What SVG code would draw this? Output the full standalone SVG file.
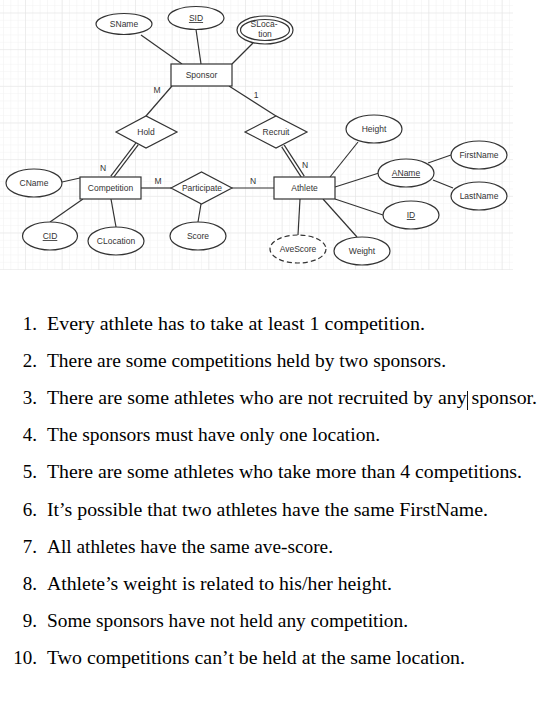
<svg xmlns="http://www.w3.org/2000/svg" width="539" height="701" viewBox="0 0 539 701">
<defs>
<pattern id="minor" patternUnits="userSpaceOnUse" x="25" y="12.5" width="7.333" height="7.333">
<path d="M0 0H7.333M0 0V7.333" fill="none" stroke="#f1f1f1" stroke-width="1"/>
</pattern>
<pattern id="major" patternUnits="userSpaceOnUse" x="25" y="12.5" width="36.667" height="36.667">
<path d="M0 0H36.667M0 0V36.667" fill="none" stroke="#e3e3e3" stroke-width="1"/>
</pattern>
<style>
.s{fill:#fff;stroke:#333;stroke-width:1.2}
.l{stroke:#333;stroke-width:1.2;fill:none}
.t{font-family:"Liberation Sans",Arial,sans-serif;font-size:8.5px;fill:#333;text-anchor:middle}
.u{text-decoration:underline}
.dl1{stroke:#333;stroke-width:4.2;fill:none}
.dl2{stroke:#fff;stroke-width:1.8;fill:none}
.q{font-family:"Liberation Serif","Times New Roman",serif;font-size:19px;fill:#000}
.n{font-family:"Liberation Serif","Times New Roman",serif;font-size:19px;fill:#000;text-anchor:end}
</style>
</defs>
<rect width="539" height="701" fill="#fff"/>
<rect x="0" y="0" width="513" height="270" fill="url(#minor)"/>
<rect x="0" y="0" width="513" height="270" fill="url(#major)"/>

<g id="connectors">
<line class="l" x1="141" y1="35" x2="182" y2="64"/>
<line class="l" x1="196" y1="29.5" x2="201" y2="64"/>
<line class="l" x1="253" y1="43" x2="232" y2="64"/>
<line class="l" x1="172" y1="86" x2="146" y2="116"/>
<line class="l" x1="229" y1="86" x2="276" y2="116"/>
<line class="dl1" x1="137" y1="144" x2="112" y2="177"/>
<line class="dl2" x1="137" y1="144" x2="112" y2="177"/>
<line class="dl1" x1="283" y1="146" x2="303" y2="177"/>
<line class="dl2" x1="283" y1="146" x2="303" y2="177"/>
<line class="l" x1="62" y1="182" x2="80" y2="178"/>
<line class="l" x1="50" y1="222" x2="83" y2="199"/>
<line class="l" x1="116" y1="227" x2="111" y2="199"/>
<line class="l" x1="141" y1="188" x2="171" y2="188"/>
<line class="l" x1="232" y1="188" x2="274" y2="188"/>
<line class="l" x1="201" y1="204" x2="198" y2="222"/>
<line class="l" x1="358" y1="142" x2="330" y2="177"/>
<line class="l" x1="335" y1="187" x2="379" y2="173"/>
<line class="l" x1="428" y1="163" x2="451" y2="155"/>
<line class="l" x1="433" y1="180" x2="453" y2="188"/>
<line class="l" x1="335" y1="199" x2="383" y2="215"/>
<line class="l" x1="323" y1="199" x2="357" y2="237"/>
<line class="l" x1="300" y1="199" x2="298" y2="235"/>
<text class="t" x="157" y="93">M</text>
<text class="t" x="256" y="98">1</text>
<text class="t" x="103" y="171">N</text>
<text class="t" x="158" y="184">M</text>
<text class="t" x="253" y="184">N</text>
<text class="t" x="305" y="168">N</text>
</g>

<g id="sponsor"><rect class="s" x="171" y="64" width="61" height="22"/><text class="t" x="201.5" y="78">Sponsor</text></g>
<g id="sname"><ellipse class="s" cx="124" cy="24" rx="28" ry="10.5"/><text class="t" x="124" y="27">SName</text></g>
<g id="sid"><ellipse class="s" cx="196" cy="18" rx="28" ry="11.5"/><text class="t u" x="196" y="21">SID</text></g>
<g id="slocation"><ellipse class="s" cx="265" cy="30" rx="28" ry="14"/><ellipse class="s" cx="265" cy="30" rx="24.5" ry="10.5"/><text class="t" x="264" y="27">SLoca-</text><text class="t" x="265" y="37">tion</text></g>

<g id="hold"><polygon class="s" points="116,132 146,116 177,132 146,148"/><text class="t" x="146" y="135">Hold</text></g>
<g id="recruit"><polygon class="s" points="245,132 276,116 307,132 276,148"/><text class="t" x="276" y="135">Recruit</text></g>

<g id="competition"><rect class="s" x="80" y="177" width="61" height="22"/><text class="t" x="110.5" y="191">Competition</text></g>
<g id="cname"><ellipse class="s" cx="34" cy="183" rx="28" ry="14"/><text class="t" x="34" y="186">CName</text></g>
<g id="cid"><ellipse class="s" cx="50" cy="236" rx="27.5" ry="14"/><text class="t u" x="50" y="239">CID</text></g>
<g id="clocation"><ellipse class="s" cx="116" cy="241" rx="28" ry="14"/><text class="t" x="116" y="244">CLocation</text></g>

<g id="participate"><polygon class="s" points="171,188 201.5,172 232,188 201.5,204"/><text class="t" x="202" y="191">Participate</text></g>
<g id="score"><ellipse class="s" cx="198" cy="236" rx="28" ry="14"/><text class="t" x="198" y="239">Score</text></g>

<g id="athlete"><rect class="s" x="274" y="177" width="61" height="22"/><text class="t" x="304.5" y="191">Athlete</text></g>
<g id="height"><ellipse class="s" cx="374" cy="129" rx="28" ry="14"/><text class="t" x="374" y="132">Height</text></g>
<g id="aname"><ellipse class="s" cx="406" cy="173" rx="28" ry="14"/><text class="t u" x="406" y="176">AName</text></g>
<g id="firstname"><ellipse class="s" cx="479" cy="155" rx="28" ry="14"/><text class="t" x="479" y="158">FirstName</text></g>
<g id="lastname"><ellipse class="s" cx="479" cy="196" rx="28" ry="14"/><text class="t" x="479" y="199">LastName</text></g>
<g id="id"><ellipse class="s" cx="411" cy="215" rx="28" ry="14"/><text class="t u" x="411" y="218">ID</text></g>
<g id="weight"><ellipse class="s" cx="362" cy="251" rx="28" ry="14"/><text class="t" x="362" y="254">Weight</text></g>
<g id="avescore"><ellipse class="s" cx="298" cy="249" rx="28" ry="14" stroke-dasharray="5,3"/><text class="t" x="298" y="252">AveScore</text></g>

<g id="questions">
<text class="n" x="37" y="330">1.</text><text class="q" x="47" y="330" textLength="378" lengthAdjust="spacingAndGlyphs">Every athlete has to take at least 1 competition.</text>
<text class="n" x="37" y="367">2.</text><text class="q" x="47" y="367" textLength="399" lengthAdjust="spacingAndGlyphs">There are some competitions held by two sponsors.</text>
<text class="n" x="37" y="404">3.</text><text class="q" x="47" y="404" textLength="490" lengthAdjust="spacingAndGlyphs">There are some athletes who are not recruited by any sponsor.</text>
<line x1="467.5" y1="391" x2="467.5" y2="410" stroke="#111" stroke-width="1"/>
<text class="n" x="37" y="441">4.</text><text class="q" x="47" y="441" textLength="333" lengthAdjust="spacingAndGlyphs">The sponsors must have only one location.</text>
<text class="n" x="37" y="478">5.</text><text class="q" x="47" y="478" textLength="475" lengthAdjust="spacingAndGlyphs">There are some athletes who take more than 4 competitions.</text>
<text class="n" x="37" y="516">6.</text><text class="q" x="47" y="516" textLength="441" lengthAdjust="spacingAndGlyphs">It’s possible that two athletes have the same FirstName.</text>
<text class="n" x="37" y="553">7.</text><text class="q" x="47" y="553" textLength="286" lengthAdjust="spacingAndGlyphs">All athletes have the same ave-score.</text>
<text class="n" x="37" y="590">8.</text><text class="q" x="47" y="590" textLength="345" lengthAdjust="spacingAndGlyphs">Athlete’s weight is related to his/her height.</text>
<text class="n" x="37" y="627">9.</text><text class="q" x="47" y="627" textLength="361" lengthAdjust="spacingAndGlyphs">Some sponsors have not held any competition.</text>
<text class="n" x="37" y="664">10.</text><text class="q" x="47" y="664" textLength="418" lengthAdjust="spacingAndGlyphs">Two competitions can’t be held at the same location.</text>
</g>
</svg>
